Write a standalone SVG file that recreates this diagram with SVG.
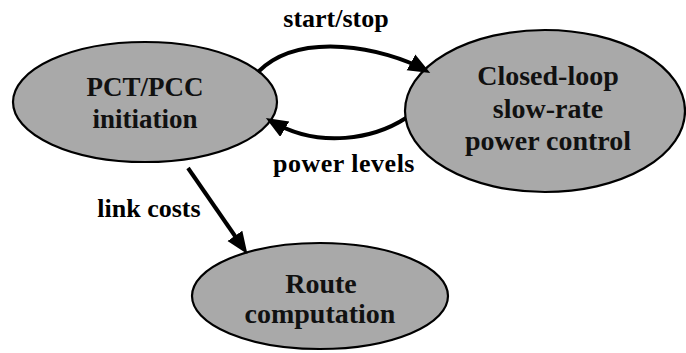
<svg xmlns="http://www.w3.org/2000/svg" width="686" height="353" viewBox="0 0 686 353">
<defs>
<marker id="ah" markerWidth="24" markerHeight="20" refX="16" refY="9" orient="auto" markerUnits="userSpaceOnUse">
<path d="M0,0 L22,9 L0,18 Z" fill="#000"/>
</marker>
</defs>
<style>
.node ellipse{fill:#a9a9a9;stroke:#000;stroke-width:2.2}
.nt{font-family:'Liberation Serif','Times New Roman','DejaVu Serif',serif;font-weight:bold;font-size:28px;fill:#111;text-anchor:middle}
.lbl{font-family:'Liberation Serif','Times New Roman','DejaVu Serif',serif;font-weight:bold;font-size:26px;fill:#000;text-anchor:middle}
.edge{fill:none;stroke:#000;stroke-width:4;marker-end:url(#ah)}
</style>
<rect width="686" height="353" fill="#fff"/>
<g id="node-pct" class="node">
<ellipse cx="145" cy="102" rx="132" ry="60"/>
<text class="nt" x="145" y="96" style="font-size:27px">PCT/PCC</text>
<text class="nt" x="145" y="128" style="font-size:27px">initiation</text>
</g>
<g id="node-closed" class="node">
<ellipse cx="545" cy="111" rx="140" ry="81"/>
<text class="nt" x="548" y="85">Closed-loop</text>
<text class="nt" x="548" y="118">slow-rate</text>
<text class="nt" x="548" y="150">power control</text>
</g>
<g id="node-route" class="node">
<ellipse cx="320" cy="296" rx="128" ry="53"/>
<text class="nt" x="321" y="293">Route</text>
<text class="nt" x="320" y="323">computation</text>
</g>
<g id="connectors">
<path class="edge" d="M258,72 C300,30 385,48 425,70"/>
<path class="edge" d="M406,118 C375,138 320,150 271,121"/>
<path class="edge" d="M188,168 L244,249"/>
</g>
<g id="labels">
<text class="lbl" x="336" y="27">start/stop</text>
<text class="lbl" x="344" y="172" style="letter-spacing:0.5px">power levels</text>
<text class="lbl" x="149" y="217">link costs</text>
</g>
</svg>
